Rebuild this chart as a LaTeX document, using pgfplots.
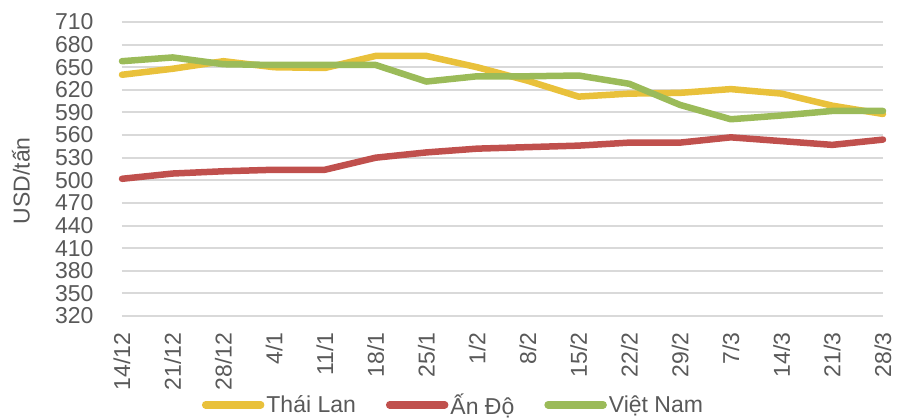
\documentclass[border=0pt]{standalone}
\usepackage{fontspec}
\setmainfont{Liberation Sans}
\usepackage{pgfplots}
\pgfplotsset{compat=1.18}
\definecolor{cTL}{HTML}{E9C13B}
\definecolor{cAD}{HTML}{C0504D}
\definecolor{cVN}{HTML}{9BBB59}
\definecolor{cGrid}{HTML}{D9D9D9}
\definecolor{cText}{HTML}{595959}
\begin{document}
\begin{tikzpicture}
\path[use as bounding box] (0pt,0pt) rectangle (898pt,418pt);
\begin{axis}[
  at={(122pt,102pt)}, anchor=south west,
  scale only axis, width=761pt, height=294pt,
  xmin=0, xmax=15, ymin=320, ymax=710,
  ytick={320,350,...,710},
  xtick={0,...,15},
  xticklabels={14/12,21/12,28/12,4/1,11/1,18/1,25/1,1/2,8/2,15/2,22/2,29/2,7/3,14/3,21/3,28/3},
  axis line style={draw=none},
  major tick style={draw=none},
  ymajorgrids, grid style={cGrid, line width=2pt},
  /pgf/number format/assume math mode=true,
  tick label style={font=\fontsize{23}{25}\selectfont, text=cText},
  yticklabel style={xshift=-25pt},
  xticklabel style={yshift=-13pt, rotate=90, anchor=east},
  ylabel={USD/tấn},
  every axis y label/.style={font=\fontsize{23}{25}\selectfont, text=cText, at={(rel axis cs:0,0.46)}, xshift=-101pt, rotate=90, anchor=center},
  legend columns=3,
  legend style={at={(0.4356,-0.302)}, anchor=center, draw=none, fill=none,
    font=\fontsize{23}{25}\selectfont, text=cText,
    /tikz/every even column/.append style={column sep=28pt}},
  legend image code/.code={\draw[#1, line width=7.5pt, line cap=round] (0pt,0pt) -- (55pt,0pt);},
  every axis plot/.append style={line width=6.5pt, line join=round, line cap=round},
  clip=false,
]
\addplot[cTL] coordinates {(0,640) (1,648) (2,658) (3,650) (4,649) (5,665) (6,665) (7,650) (8,632) (9,611) (10,615) (11,616) (12,621) (13,615) (14,599) (15,588)};
\addlegendentry{Thái Lan}
\addplot[cAD] coordinates {(0,502) (1,509) (2,512) (3,514) (4,514) (5,530) (6,537) (7,542) (8,544) (9,546) (10,550) (11,550) (12,557) (13,552) (14,547) (15,554)};
\addlegendentry{Ấn Độ}
\addplot[cVN] coordinates {(0,658) (1,663) (2,654) (3,653) (4,653) (5,653) (6,631) (7,638) (8,638) (9,639) (10,628) (11,600) (12,581) (13,586) (14,592) (15,592)};
\addlegendentry{Việt Nam}
\end{axis}
\end{tikzpicture}
\end{document}
